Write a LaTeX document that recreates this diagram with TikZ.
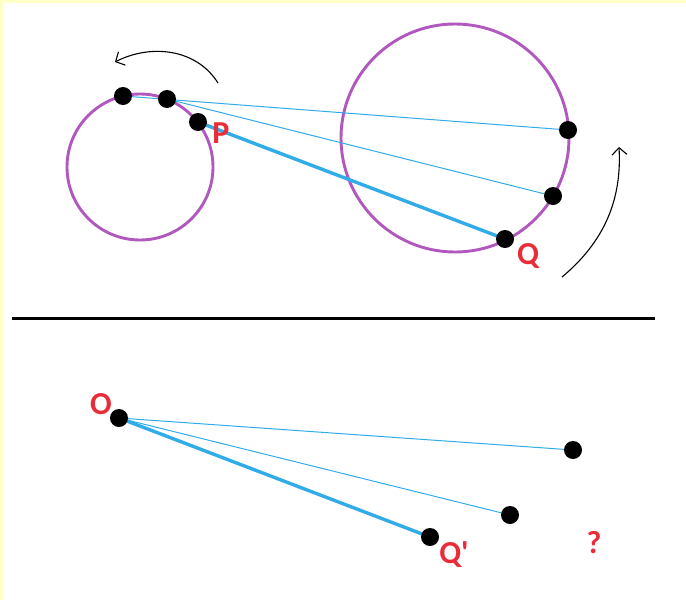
\documentclass[tikz,border=0pt]{standalone}
\usepackage{fontspec}
\setmainfont{Carlito}
\usepackage{xcolor}
\usetikzlibrary{arrows.meta}
\definecolor{ringpurple}{RGB}{176,88,190}
\definecolor{rayblue}{RGB}{50,172,232}
\definecolor{labelred}{RGB}{232,44,56}
\definecolor{frameyellow}{RGB}{255,255,200}

\begin{document}
\begin{tikzpicture}[
    x=1pt, y=-1pt,
    ring/.style={draw=ringpurple, line width=2.9pt},
    thinray/.style={draw=rayblue, line width=1pt},
    thickray/.style={draw=rayblue, line width=3.4pt},
    dot/.style={circle, fill=black, inner sep=0pt, minimum size=18pt},
    lbl/.style={text=labelred, font=\fontsize{32}{32}\selectfont\bfseries, inner sep=0pt},
    turn/.style={-{Straight Barb[length=7pt, width=15pt]}, line width=1.1pt},
]

% frame
\fill[frameyellow] (0,0) rectangle (686,600);
\fill[white] (3,3) rectangle (686,600);
\useasboundingbox (0,0) rectangle (686,600);

% points
\coordinate (a1) at (123,96);
\coordinate (a2) at (167,99);
\coordinate (p) at (198,122);
\coordinate (b1) at (568,130);
\coordinate (b2) at (553,196);
\coordinate (q) at (505,239);
\coordinate (o) at (119,418);
\coordinate (c1) at (573,450);
\coordinate (c2) at (510,515);
\coordinate (qq) at (430,537);

% upper half
\draw[ring] (140,167) circle[radius=73];
\draw[ring] (455,138) circle[radius=114];
\draw[thinray] (a1) -- (b1);
\draw[thinray] (a2) -- (b2);
\draw[thickray] (p) -- (q);
\draw[turn] (218,83) .. controls (196,48) and (150,44) .. (115,62);
\draw[turn] (562,277) .. controls (604,242) and (622,200) .. (619,147);

% divider
\draw[line width=3pt] (12,318) -- (655,318);

% lower half
\draw[thinray] (o) -- (c1);
\draw[thinray] (o) -- (c2);
\draw[thickray] (o) -- (qq);

\foreach \pt in {a1,a2,p,b1,b2,q,o,c1,c2,qq}
    \node[dot] at (\pt) {};

\node[lbl] (plbl) at (221,133) {P};
\node[lbl] (qlbl) at (528,256) {Q};
\node[lbl] (olbl) at (101,404) {O};
\node[lbl] (qqlbl) at (454,555) {Q\textquotesingle};
\node[lbl] (quest) at (594,543) {?};

\end{tikzpicture}
\end{document}
